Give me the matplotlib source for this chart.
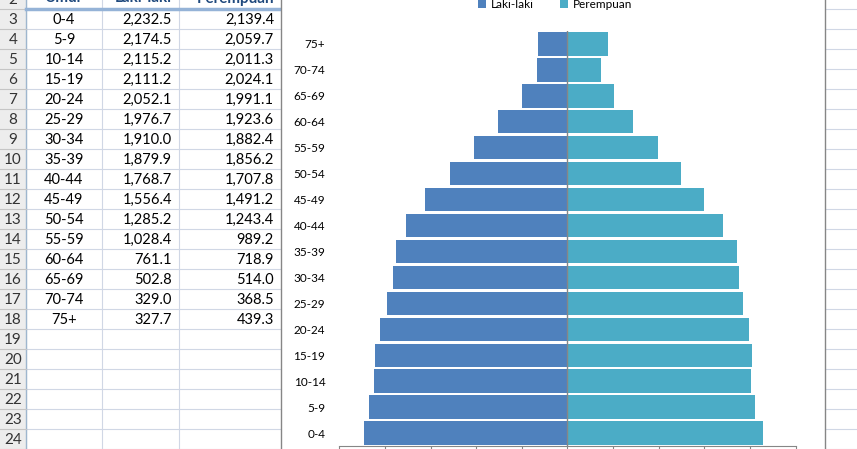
import matplotlib
matplotlib.use("Agg")
import matplotlib.pyplot as plt
import numpy as np

plt.rcParams['font.family'] = ['Lato', 'DejaVu Sans']

umur = ["0-4", "5-9", "10-14", "15-19", "20-24", "25-29", "30-34", "35-39",
        "40-44", "45-49", "50-54", "55-59", "60-64", "65-69", "70-74", "75+"]
laki = [2232.5, 2174.5, 2115.2, 2111.2, 2052.1, 1976.7, 1910.0, 1879.9,
        1768.7, 1556.4, 1285.2, 1028.4, 761.1, 502.8, 329.0, 327.7]
perempuan = [2139.4, 2059.7, 2011.3, 2024.1, 1991.1, 1923.6, 1882.4, 1856.2,
             1707.8, 1491.2, 1243.4, 989.2, 718.9, 514.0, 368.5, 439.3]
headers = ["Umur", "Laki-laki", "Perempuan"]
row_numbers = list(range(2, 25))

W, H = 857, 449
fig = plt.figure(figsize=(W / 100, H / 100), dpi=100)

# spreadsheet in pixel coordinates
sh = fig.add_axes([0, 0, 1, 1])
sh.set_xlim(0, W)
sh.set_ylim(H, 0)
sh.axis('off')

grid_c = '#D0D7E5'
row_h = 20
top = 9.3
col_x = [0, 25.7, 102.3, 179.3, 281]

# row header column
sh.add_patch(plt.Rectangle((0, -20), 25.7, H + 40, color='#EDEDED', zorder=0))
sh.plot([25.7, 25.7], [-20, H + 20], color='#9EB6CE', lw=1)

for k, n in enumerate(row_numbers):
    yc = top - row_h / 2 + k * row_h
    sh.text(13, yc + 1, str(n), ha='center', va='center', fontsize=11,
            color='#333333')
    ybot = top + k * row_h
    sh.plot([0, 25.7], [ybot, ybot], color='#C5C5C5', lw=0.8)
    sh.plot([25.7, W], [ybot, ybot], color=grid_c, lw=0.8, zorder=0.5)

for x in col_x[2:4]:
    sh.plot([x, x], [-20, H + 20], color=grid_c, lw=0.8)

# header row (cut off at top)
sh.plot([25.7, 281], [top - 0.5, top - 0.5], color='#95B3D7', lw=2.5)
sh.text(64, -1.5, headers[0], ha='center', va='center', fontsize=11,
        fontweight='bold', color='#1F497D')
sh.text(172, -1.5, headers[1], ha='right', va='center', fontsize=11,
        fontweight='bold', color='#1F497D')
sh.text(274, -1.5, headers[2], ha='right', va='center', fontsize=11,
        fontweight='bold', color='#1F497D')

for i in range(len(umur)):
    yc = top + row_h / 2 + i * row_h + 1
    sh.text(64, yc, umur[i], ha='center', va='center', fontsize=10.5)
    sh.text(172, yc, f"{laki[i]:,.1f}", ha='right', va='center', fontsize=10.5)
    sh.text(274, yc, f"{perempuan[i]:,.1f}", ha='right', va='center', fontsize=10.5)

# chart area
sh.add_patch(plt.Rectangle((281, -5), 825 - 281, H + 10, facecolor='white',
                           edgecolor='#868686', lw=1, zorder=2))

x0, x1 = 339.3, 795.6
y0, y1 = 31, 446
ax = fig.add_axes([x0 / W, (H - y1) / H, (x1 - x0) / W, (y1 - y0) / H])
ax.patch.set_alpha(0)

y = np.arange(len(umur))
ax.barh(y, -np.array(laki), height=0.9, color='#4F81BD', label='Laki-laki')
ax.barh(y, perempuan, height=0.9, color='#4BACC6', label='Perempuan')
ax.axvline(0, color='#868686', lw=1)

ax.set_xlim(-2500, 2500)
ax.set_ylim(-0.5, len(umur) - 0.5)
ax.set_xticks(np.arange(-2500, 2501, 500))
ax.tick_params(axis='x', length=4, color='#868686', labelbottom=False)
ax.set_yticks(y)
ax.set_yticklabels(umur, fontsize=8.5)
ax.tick_params(axis='y', length=0, pad=10)
for s in ['top', 'right', 'left']:
    ax.spines[s].set_visible(False)
ax.spines['bottom'].set_color('#868686')

fig.legend(loc='center', bbox_to_anchor=(555 / W, 1 - 4 / H), ncol=2,
           frameon=False, fontsize=8.5, handlelength=0.7, handleheight=0.7,
           handletextpad=0.4, columnspacing=2.2)

fig.savefig("out.png", dpi=100)
